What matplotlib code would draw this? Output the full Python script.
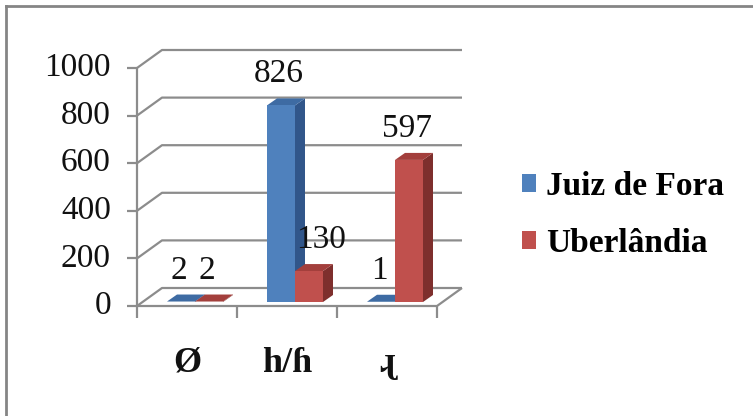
import matplotlib
matplotlib.use("Agg")
import matplotlib.pyplot as plt
from matplotlib.patches import Polygon, Patch
from matplotlib.lines import Line2D

# ---- data ----
categories = ["Ø", "h/ɦ", "ɻ"]
series_names = ["Juiz de Fora", "Uberlândia"]
juiz_de_fora = [2, 826, 1]
uberlandia = [2, 130, 597]
y_ticks = [0, 200, 400, 600, 800, 1000]

# ---- styling ----
front_colors = ["#4F81BD", "#C0504D"]
top_colors = ["#3E6BA3", "#A33F3C"]
side_colors = ["#31568A", "#7E2F2D"]
grid_color = "#8C8C8C"
serif = ["Liberation Serif", "DejaVu Serif"]

W, H, DPI = 753, 416, 100
fig = plt.figure(figsize=(W / DPI, H / DPI), dpi=DPI)
ax = fig.add_axes([0, 0, 1, 1])
ax.set_axis_off()

# front plane: category 0 centred at x=187 px, 100 px per category;
# value 0 at y=306 px (from top), 0.238 px per unit
X0_PX, PX_PER_CAT = 187, 100.0
Y0_PX, PX_PER_UNIT = 306, 0.238
ax.set_xlim(-X0_PX / PX_PER_CAT, (W - X0_PX) / PX_PER_CAT)
ax.set_ylim(-(H - Y0_PX) / PX_PER_UNIT, Y0_PX / PX_PER_UNIT)


def px_x(p):
    return p / PX_PER_CAT


def px_y(p):
    return p / PX_PER_UNIT


n = len(categories)
left, right = -0.5, n - 0.5
wall_dx, wall_dy = px_x(25), px_y(18)

# walls and gridlines
gl = dict(color=grid_color, lw=1.6, solid_capstyle="butt", zorder=1)
for v in y_ticks:
    ax.plot([left, left + wall_dx, right + wall_dx],
            [v, v + wall_dy, v + wall_dy], **gl)
    ax.plot([left - px_x(10), left], [v, v], **gl)
ax.plot([left, right, right + wall_dx], [0, 0, wall_dy], **gl)
ax.plot([left, left], [0, y_ticks[-1]], **gl)
for k in range(n + 1):
    ax.plot([left + k, left + k], [0, -px_y(12)], **gl)

# y tick labels
for v in y_ticks:
    ax.text(left - px_x(26), v, f"{v}", ha="right", va="center",
            fontsize=24, family=serif, color="#111111")

# 3D bars
bar_w = px_x(28)
base = px_y(4)
bdx, bdy = px_x(10), px_y(7)
label_nudge = {(1, 1): 14}
for s, vals in enumerate([juiz_de_fora, uberlandia]):
    for i, v in enumerate(vals):
        x0 = i - px_x(20) + s * bar_w
        x1 = x0 + bar_w
        y0, y1 = base, base + v
        side = [(x1, y0), (x1, y1), (x1 + bdx, y1 + bdy), (x1 + bdx, y0 + bdy)]
        top = [(x0, y1), (x1, y1), (x1 + bdx, y1 + bdy), (x0 + bdx, y1 + bdy)]
        front = [(x0, y0), (x1, y0), (x1, y1), (x0, y1)]
        ax.add_patch(Polygon(side, closed=True, fc=side_colors[s], ec="none", zorder=3))
        ax.add_patch(Polygon(top, closed=True, fc=top_colors[s], ec="none", zorder=3))
        ax.add_patch(Polygon(front, closed=True, fc=front_colors[s], ec="none", zorder=3))
        nudge = label_nudge.get((i, s), 0) - 2
        ax.annotate(f"{v}", xy=((x0 + x1) / 2, y1), xytext=(nudge * 0.72, 23 * 0.72),
                    textcoords="offset points", ha="center", va="baseline",
                    fontsize=24, family=serif, color="#111111", zorder=5)

# category labels
for i, c in enumerate(categories):
    ax.text(i, -px_y(66), c, ha="center", va="baseline", fontsize=26,
            fontweight="bold", family=serif, color="#111111")

# legend
handles = [Patch(fc=front_colors[k], ec="none") for k in range(2)]
fig.legend(handles, series_names, loc="center left",
           bbox_to_anchor=(522 / W, 1 - 215 / H), frameon=False,
           prop=dict(family=serif, weight="bold", size=24),
           handlelength=0.42, handleheight=0.42, handletextpad=0.3,
           labelspacing=0.78, borderaxespad=0, borderpad=0)

# outer frame (top and left edges)
fig.add_artist(Line2D([6 / W, 752 / W], [1 - 6 / H, 1 - 6 / H],
                      transform=fig.transFigure, color="#858585", lw=2))
fig.add_artist(Line2D([6 / W, 6 / W], [1 - 6 / H, 0],
                      transform=fig.transFigure, color="#858585", lw=2))

fig.savefig("out.png", dpi=DPI)
